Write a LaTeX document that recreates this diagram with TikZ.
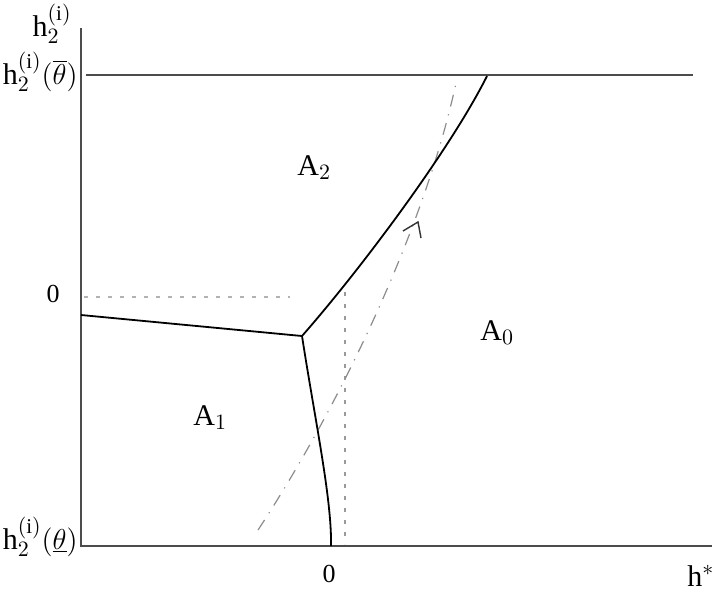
\documentclass[tikz,border=0pt]{standalone}
\usepackage{fontspec}
\setmainfont{Liberation Serif}
\begin{document}
\begin{tikzpicture}[x=0.5pt,y=-0.5pt,
    every node/.style={inner sep=0pt, font=\fontsize{15}{17}\selectfont},
    axis/.style={draw=black!70, line width=1pt},
    border/.style={draw=black, line width=0.9pt},
    guide/.style={draw=black!40, line width=0.6pt, dash pattern=on 2pt off 4pt},
    trail/.style={draw=black!45, line width=0.6pt, dash pattern=on 6pt off 4pt on 0.6pt off 4pt},
    tick/.style={font=\fontsize{13}{15}\selectfont}
  ]
  \useasboundingbox (0,0) rectangle (715,590);

  % frame of the plot
  \coordinate (ytop) at (81,28);
  \coordinate (orig) at (81,546);
  \coordinate (xend) at (712,546);
  \coordinate (cap) at (86,75);
  \coordinate (capend) at (693,75);
  \draw[axis] (ytop) -- (orig) -- (xend);
  \draw[axis] (cap) -- (capend);

  % faint guides
  \draw[guide, draw=black!30] (84,297) -- (290,297);
  \draw[guide] (345,292) -- (345,544);
  \coordinate (tip) at (418,222);
  \draw[trail] (258,530) .. controls (350,390) and (430,210) .. (457,78);
  \draw[black!80, line width=0.7pt] (403,231) -- (tip) -- (421,238);

  % region borders
  \coordinate (lft) at (81,315);
  \coordinate (meet) at (302,336);
  \coordinate (low) at (331,546);
  \coordinate (up) at (487,76);
  \draw[border] (lft) -- (meet);
  \draw[border] (meet) .. controls (315,420) and (332,500) .. (low);
  \draw[border] (meet) .. controls (360,270) and (450,150) .. (up);

  % labels
  \node[anchor=base east] (hlab) at (72,36) {$\mathrm{h}_2^{(\mathrm{i})}$};
  \node[anchor=base east] (hbar) at (78,84) {$\mathrm{h}_2^{(\mathrm{i})}(\overline{\theta})$};
  \node[anchor=base east] (hund) at (78,549) {$\mathrm{h}_2^{(\mathrm{i})}(\underline{\theta})$};
  \node[tick, anchor=base] (yzero) at (53,302) {0};
  \node[tick, anchor=base] (xzero) at (329,582) {0};
  \node[anchor=base west] (hstar) at (687,586) {h$^{*}$};

  \node[anchor=base west] (atwo) at (297,175) {A$_2$};
  \node[anchor=base west] (azero) at (480,340) {A$_0$};
  \node[anchor=base west] (aone) at (193,425) {A$_1$};
\end{tikzpicture}
\end{document}
